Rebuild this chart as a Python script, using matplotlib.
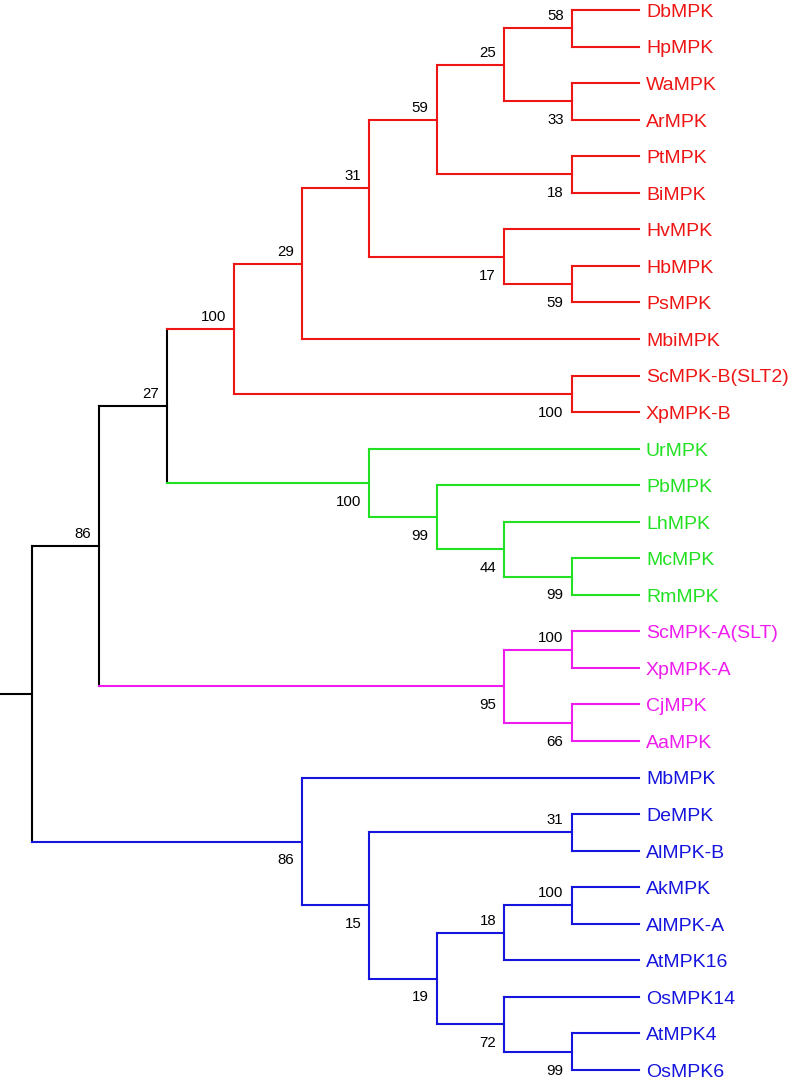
import matplotlib
matplotlib.use("Agg")
import matplotlib.pyplot as plt

plt.rcParams['font.family'] = ['Liberation Sans', 'DejaVu Sans']

# Drzewo: (bootstrap, [dzieci]); liść = nazwa
red_clade = (100, [
    (29, [
        (31, [
            (59, [
                (25, [(58, ["DbMPK", "HpMPK"]), (33, ["WaMPK", "ArMPK"])]),
                (18, ["PtMPK", "BiMPK"]),
            ]),
            (17, ["HvMPK", (59, ["HbMPK", "PsMPK"])]),
        ]),
        "MbiMPK",
    ]),
    (100, ["ScMPK-B(SLT2)", "XpMPK-B"]),
])
green_clade = (100, ["UrMPK", (99, ["PbMPK", (44, ["LhMPK", (99, ["McMPK", "RmMPK"])])])])
magenta_clade = (95, [(100, ["ScMPK-A(SLT)", "XpMPK-A"]), (66, ["CjMPK", "AaMPK"])])
blue_clade = (86, ["MbMPK",
                   (15, [(31, ["DeMPK", "AlMPK-B"]),
                         (19, [(18, [(100, ["AkMPK", "AlMPK-A"]), "AtMPK16"]),
                               (72, ["OsMPK14", (99, ["AtMPK4", "OsMPK6"])])])])])
tree = (None, [(86, [(27, [red_clade, green_clade]), magenta_clade]), blue_clade])

clade_colors = [(red_clade, "#ee1515"), (green_clade, "#22e022"),
                (magenta_clade, "#ee1cee"), (blue_clade, "#1515dd")]
base_color = "black"


def height(node):
    if isinstance(node, str):
        return 0
    return 1 + max(height(c) for c in node[1])


def color_of(node, inherited):
    for clade, col in clade_colors:
        if node is clade:
            return col
    return inherited


max_h = height(tree)
leaf_counter = [0]
segments = []   # (x0, x1, y0, y1, kolor)
leaf_labels = []
boot_labels = []


def layout(node, color):
    col = color_of(node, color)
    if isinstance(node, str):
        y = leaf_counter[0]
        leaf_counter[0] += 1
        leaf_labels.append((max_h, y, node, col))
        return max_h, y, col
    x = max_h - height(node)
    kids = [layout(c, col) for c in node[1]]
    ys = [k[1] for k in kids]
    y = (min(ys) + max(ys)) / 2
    segments.append((x, x, min(ys), max(ys), col))
    for i, (c, (kx, ky, kc)) in enumerate(zip(node[1], kids)):
        segments.append((x, kx, ky, ky, kc))
        if not isinstance(c, str):
            boot_labels.append((kx, ky, str(c[0]), i == 0))
    return x, y, col


rx, ry, rc = layout(tree, base_color)

fig = plt.figure(figsize=(7.93, 10.8), dpi=100)
ax = fig.add_axes([0, 0, 1, 1])

# krótki odcinek przy korzeniu
stub = 0.475
ax.plot([rx - stub, rx], [ry, ry], color=base_color, lw=1.5, solid_capstyle='butt')

for x0, x1, y0, y1, col in segments:
    ax.plot([x0, x1], [y0, y1], color=col, lw=1.5, solid_capstyle='projecting')

for x, y, name, col in leaf_labels:
    ax.annotate(name, (x, y), xytext=(5, -5), textcoords='offset points',
                ha='left', va='baseline', fontsize=14, color=col)

for x, y, val, upper in boot_labels:
    dy = 5.8 if upper else -16.5
    ax.annotate(val, (x, y), xytext=(-5.8, dy), textcoords='offset points',
                ha='right', va='baseline', fontsize=10.8, color='black')

ax.set_xlim(rx - stub, rx - stub + 793 / 67.44)
n = leaf_counter[0]
ax.set_ylim((1080 - 10) / 36.55, -10 / 36.55)
ax.axis('off')

plt.savefig("out.png", dpi=100)
